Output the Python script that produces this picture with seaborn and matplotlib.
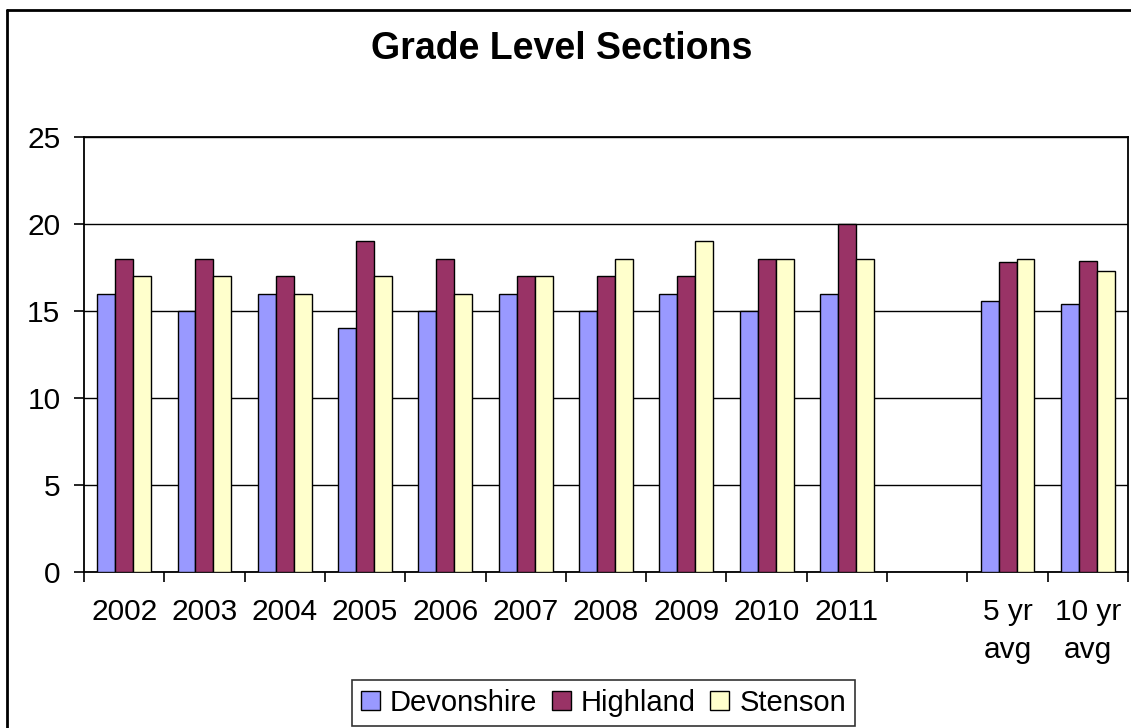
import seaborn as sns
import pandas as pd
import matplotlib.pyplot as plt
from matplotlib.lines import Line2D

# Valores
categorias = ["2002", "2003", "2004", "2005", "2006", "2007", "2008", "2009",
              "2010", "2011", " ", "5 yr\navg", "10 yr\navg"]
devonshire = [16, 15, 16, 14, 15, 16, 15, 16, 15, 16, None, 15.6, 15.4]
highland = [18, 18, 17, 19, 18, 17, 17, 17, 18, 20, None, 17.8, 17.9]
stenson = [17, 17, 16, 17, 16, 17, 18, 19, 18, 18, None, 18.0, 17.3]
escolas = ["Devonshire", "Highland", "Stenson"]
cores = ["#9999FF", "#993366", "#FFFFCC"]

# Montando o DataFrame em formato longo
linhas = []
for nome, valores in zip(escolas, [devonshire, highland, stenson]):
    for cat, v in zip(categorias, valores):
        if v is not None:
            linhas.append({"categoria": cat, "escola": nome, "valor": v})
df = pd.DataFrame(linhas)

sns.set_style("white")
plt.rcParams['font.family'] = ['Liberation Sans', 'DejaVu Sans']
plt.rcParams['text.color'] = 'black'
plt.rcParams['xtick.color'] = 'black'
plt.rcParams['ytick.color'] = 'black'
plt.rcParams['axes.labelcolor'] = 'black'

fig = plt.figure(figsize=(11.31, 7.28), dpi=100)
ax = fig.add_axes([84/1131, 1 - 572/728, (1128 - 84)/1131, (572 - 137)/728])

sns.barplot(data=df, x="categoria", y="valor", hue="escola", order=categorias,
            hue_order=escolas, palette=cores, width=0.67, gap=0,
            edgecolor="black", linewidth=1, saturation=1, ax=ax, zorder=3)

handles, labels = ax.get_legend_handles_labels()
ax.get_legend().remove()

ax.set_xlim(-0.5, len(categorias) - 0.5)
ax.set_ylim(0, 25)
ax.set_yticks(range(0, 26, 5))
ax.yaxis.grid(True, color="black", linewidth=1, zorder=0)
ax.set_axisbelow(True)
ax.set_xlabel("")
ax.set_ylabel("")

# Ticks nas divisões entre categorias, rótulos no centro
ax.set_xticks([i - 0.5 for i in range(len(categorias) + 1)])
ax.set_xticklabels([])
ax.set_xticks(range(len(categorias)), minor=True)
ax.set_xticklabels(categorias, minor=True, fontsize=21.5)
for t in ax.get_xticklabels(minor=True):
    t.set_linespacing(1.45)
ax.tick_params(axis="x", which="major", direction="out", length=7, width=1.2,
               color="black", bottom=True)
ax.tick_params(axis="x", which="minor", length=0, pad=19, bottom=True)
ax.tick_params(axis="y", direction="out", length=7, width=1.2, color="black",
               labelsize=21.5, pad=10, left=True)

for s in ax.spines.values():
    s.set_visible(True)
    s.set_color("black")
    s.set_linewidth(1.3)

fig.text(0.4965, 1 - 49/728, "Grade Level Sections", ha="center", va="center",
         fontsize=27, fontweight="bold")

leg = fig.legend(handles, labels, loc="center", bbox_to_anchor=(603.5/1131, 1 - 703/728),
                 ncol=3, fontsize=21, frameon=True, fancybox=False,
                 edgecolor="black", handlelength=0.65, handleheight=0.65,
                 handletextpad=0.35, columnspacing=0.5, borderpad=0.3,
                 borderaxespad=0)
leg.get_frame().set_linewidth(1.2)

# Moldura do gráfico (esquerda e topo)
fig.add_artist(Line2D([7/1131, 7/1131], [0, 1 - 10/728], color="black",
                      linewidth=2, transform=fig.transFigure))
fig.add_artist(Line2D([7/1131, 1], [1 - 10/728, 1 - 10/728], color="black",
                      linewidth=2, transform=fig.transFigure))

fig.savefig("out.png", dpi=100)
